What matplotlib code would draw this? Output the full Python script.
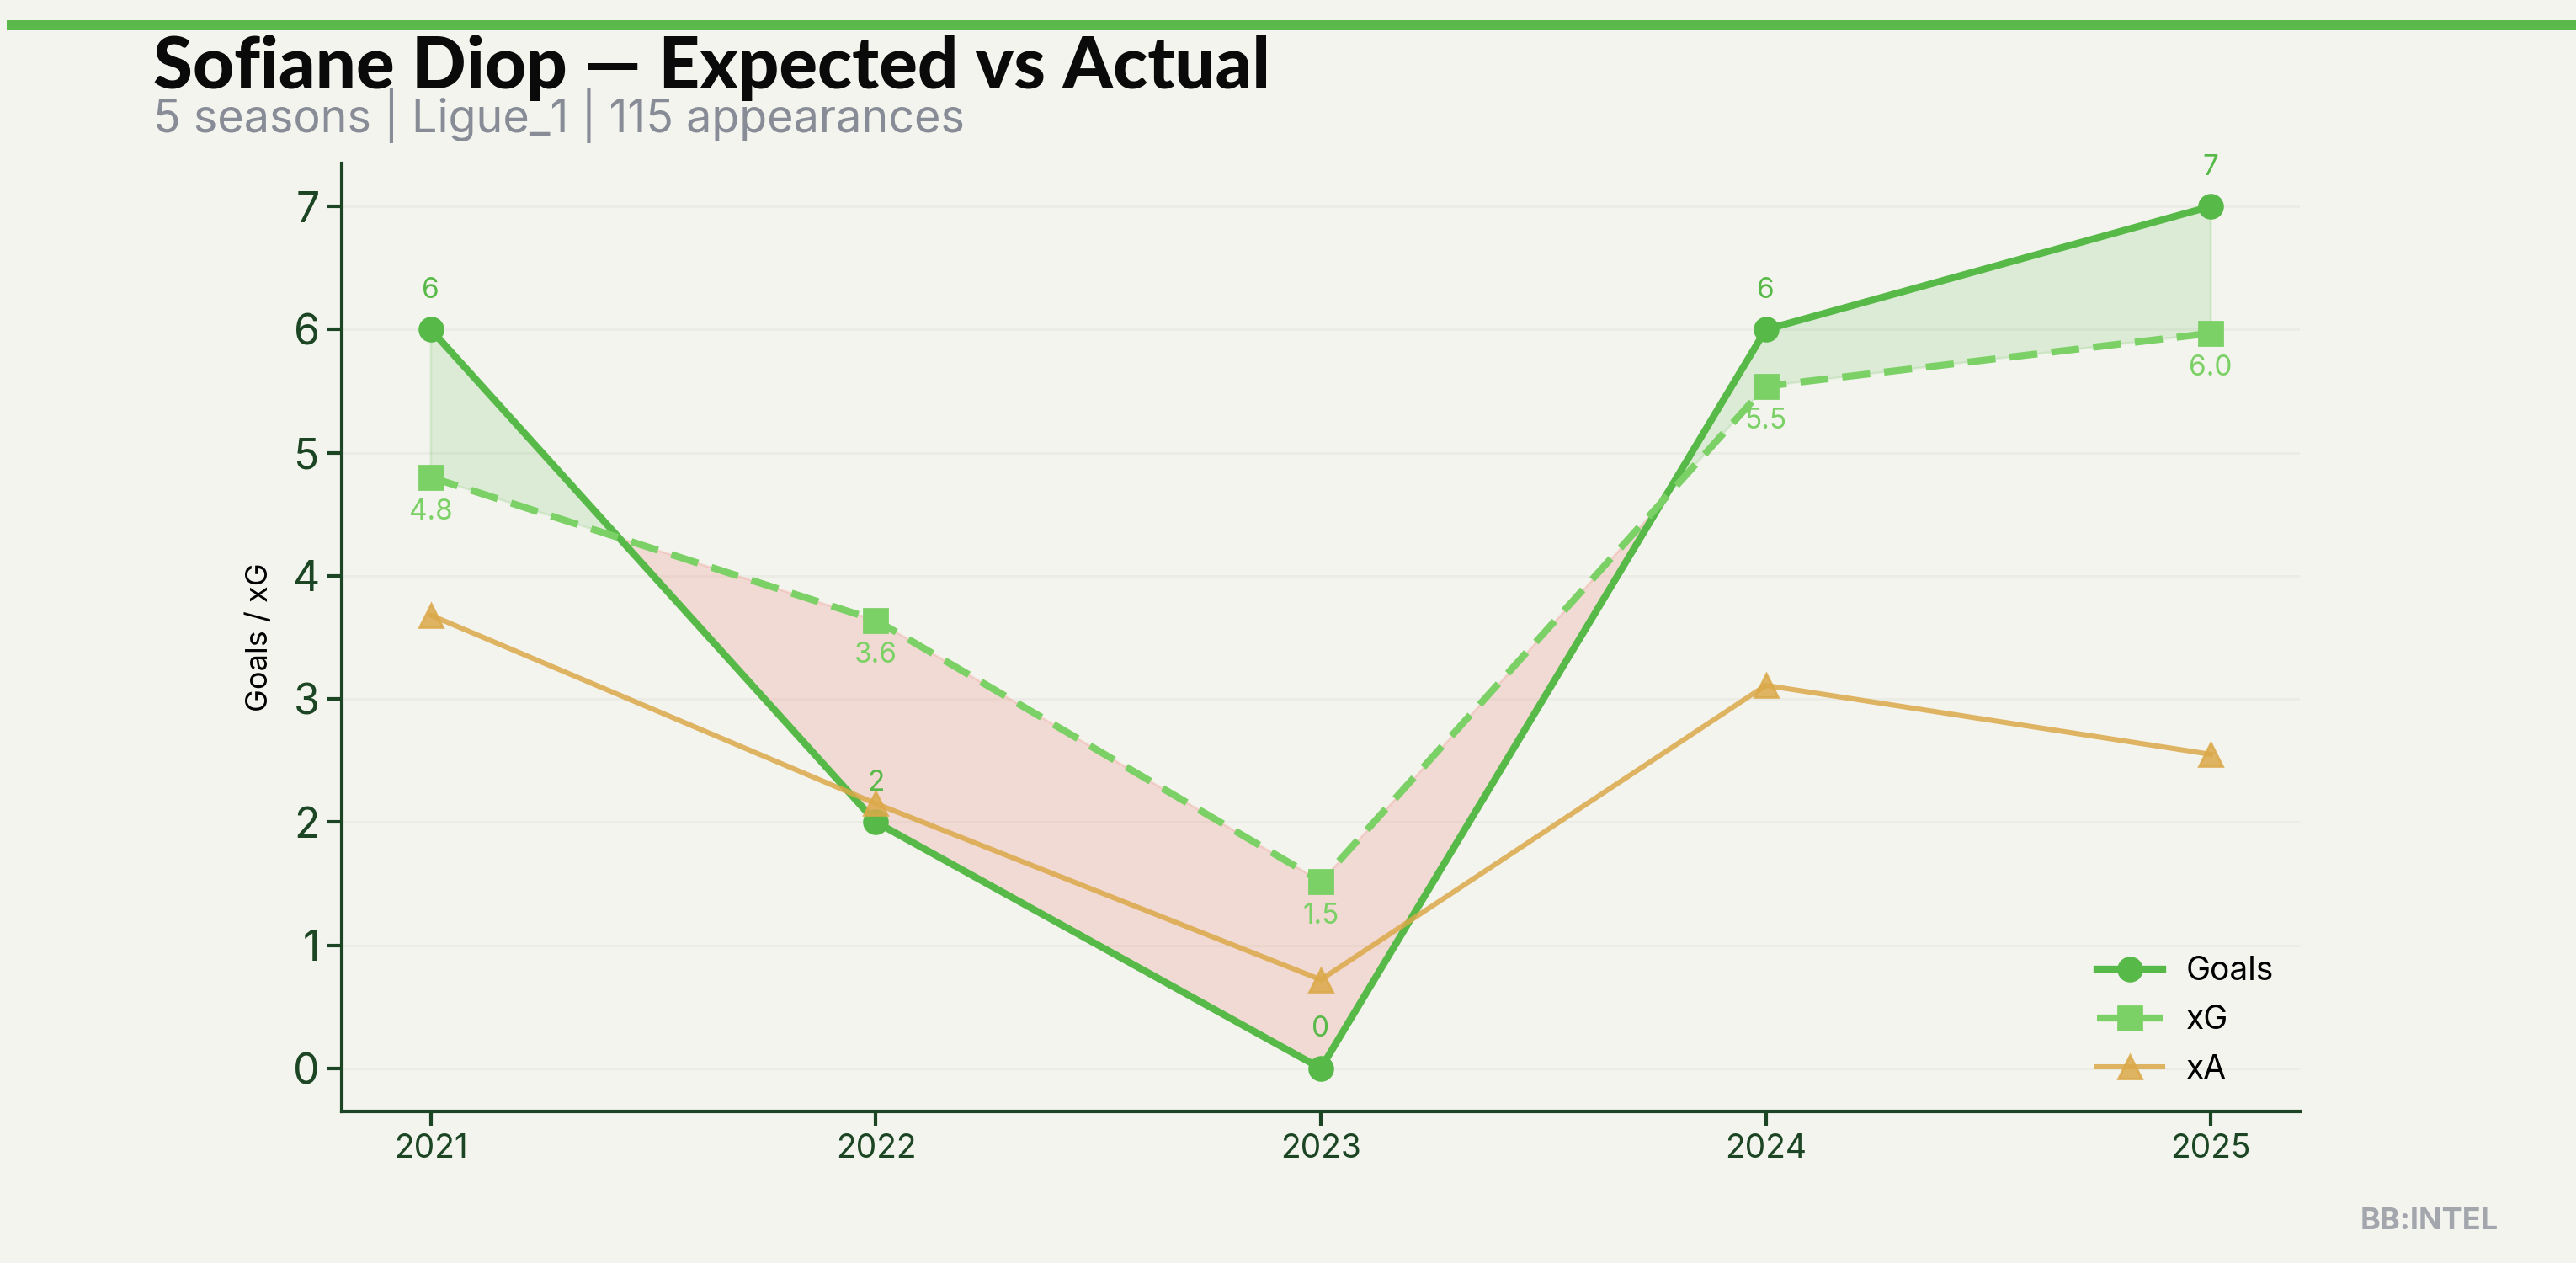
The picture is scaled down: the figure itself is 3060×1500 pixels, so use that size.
import matplotlib
matplotlib.use("Agg")
import matplotlib.pyplot as plt
from matplotlib.patches import Rectangle
import numpy as np

seasons = [2021, 2022, 2023, 2024, 2025]
goals = [6, 2, 0, 6, 7]
xg = [4.80, 3.64, 1.52, 5.54, 5.97]
xa = [3.68, 2.15, 0.72, 3.11, 2.55]

title = "Sofiane Diop — Expected vs Actual"
subtitle = "5 seasons | Ligue_1 | 115 appearances"

BG = "#f4f4ef"
C_GOALS = "#57b947"
C_XG = "#7cd166"
C_XA = "#dba94a"
C_AX = "#1c4623"

plt.rcParams['font.family'] = ['Inter', 'DejaVu Sans']

fig = plt.figure(figsize=(15.3, 7.5), dpi=200, facecolor=BG)
ax = fig.add_axes([0.1327, 0.12, 0.8928 - 0.1327, 0.8707 - 0.12])
ax.set_facecolor(BG)

x = np.array(seasons, dtype=float)
g = np.array(goals, dtype=float)
e = np.array(xg, dtype=float)

ax.fill_between(x, g, e, where=g >= e, interpolate=True, color=C_GOALS, alpha=0.15, zorder=1)
ax.fill_between(x, g, e, where=g < e, interpolate=True, color="#e74c3c", alpha=0.15, zorder=1)

ax.plot(x, g, color=C_GOALS, lw=3, marker='o', markersize=10, label='Goals', zorder=3)
ax.plot(x, e, color=C_XG, lw=3, ls='--', dashes=(4, 2), marker='s', markersize=10, label='xG', zorder=3)
ax.plot(x, xa, color=C_XA, lw=2.2, marker='^', markersize=10, alpha=0.85, label='xA', zorder=4)

for xi, gi in zip(x, goals):
    ax.annotate(f"{gi}", (xi, gi), textcoords='offset points', xytext=(0, 11),
                ha='center', va='bottom', fontsize=12, color=C_GOALS)
for xi, ei in zip(x, xg):
    ax.annotate(f"{ei:.1f}", (xi, ei), textcoords='offset points', xytext=(0, -9),
                ha='center', va='top', fontsize=12, color=C_XG)

ax.set_xticks(seasons)
ax.set_xticklabels([str(s) for s in seasons])
ax.set_yticks(range(0, 8))
ax.tick_params(axis='x', labelsize=14, colors=C_AX, length=6, width=1.5)
ax.tick_params(axis='y', labelsize=18, colors=C_AX, length=6, width=1.5)
ax.set_ylabel("Goals / xG", fontsize=13, color='black', labelpad=8)

for s in ['top', 'right']:
    ax.spines[s].set_visible(False)
for s in ['left', 'bottom']:
    ax.spines[s].set_color(C_AX)
    ax.spines[s].set_linewidth(1.5)
ax.grid(axis='y', color='#ecece6', lw=1)
ax.set_axisbelow(True)

leg = ax.legend(loc='lower right', frameon=False, fontsize=14, handlelength=2.0,
                borderaxespad=0.4, labelspacing=0.55, handletextpad=0.7)

fig.add_artist(Rectangle((0.0026, 1 - 36 / 1500), 1.0, 12 / 1500, transform=fig.transFigure,
                         color="#5ab94a", lw=0))
fig.text(0.0595, 1 - 105 / 1500, title, fontsize=30.7, fontweight='black', family=['Lato', 'DejaVu Sans'],
         color='#0a0a0a', ha='left', va='baseline')
fig.text(0.0595, 1 - 157 / 1500, subtitle, fontsize=19.4, color='#878c96', ha='left', va='baseline')
fig.text(0.97, 1 - 1450 / 1500, "BB:INTEL", fontsize=13, fontweight='bold', color='#a3a6ad',
         ha='right', va='center')

fig.savefig("out.png", dpi=200, facecolor=BG)
